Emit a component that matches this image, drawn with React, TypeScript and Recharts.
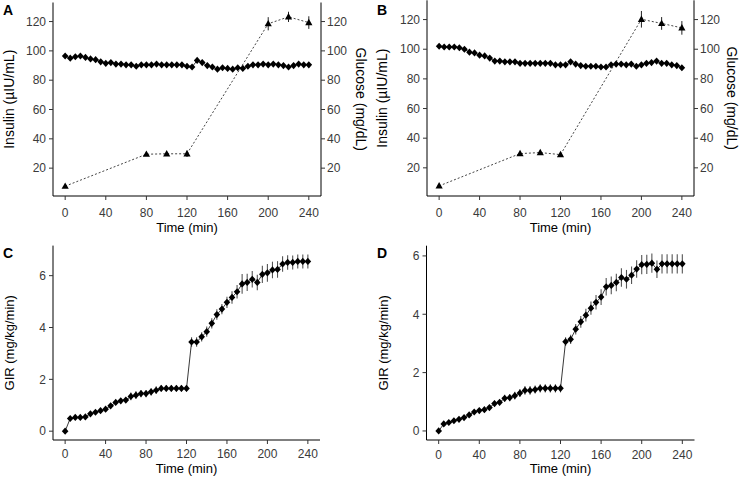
import { ComposedChart, Line, XAxis, YAxis, ErrorBar, Label } from 'recharts';

// sampling times (min)
const minutes = [
    0, 5, 10, 15, 20, 25, 30, 35, 40, 45, 50, 55, 60, 65, 70, 75, 80, 85, 90, 95,
    100, 105, 110, 115, 120, 125, 130, 135, 140, 145, 150, 155, 160, 165, 170, 175,
    180, 185, 190, 195, 200, 205, 210, 215, 220, 225, 230, 235, 240
];
const insulinMinutes = [0, 80, 100, 120, 200, 220, 240];
const timeTicks = [0, 40, 80, 120, 160, 200, 240];
const clampTicks = [20, 40, 60, 80, 100, 120];
const girTicks = [0, 2, 4, 6];

// panel A
const glucoseA = [
    96.5, 95, 96, 96.5, 95.5, 94.5, 94, 92.5, 91.5, 92, 91, 91, 90.5, 90.5, 89.5, 90.5,
    90.5, 90.5, 91, 90.5, 90.5, 90.5, 90.5, 90.5, 89.5, 89, 93.5, 92, 90, 89, 87.5, 88.5,
    88, 87.5, 88.5, 88, 89.5, 90.5, 90.5, 91, 90.5, 91, 90.5, 90, 89, 90, 91, 90.5, 90.5
];
const insulinA = [7.7, 29.5, 29.8, 29.8, 118.5, 123.2, 119.3];
const insulinErrA = [0.8, 1.2, 1, 2.2, 4.5, 3.5, 4.3];

// panel B
const glucoseB = [
    102, 101.5, 101.5, 101.5, 101, 100, 98, 97.5, 96, 95.5, 94, 92, 92, 91.5, 91.5, 91.5,
    90.5, 90.5, 90.5, 90.5, 90.5, 90.5, 90.5, 89.5, 89.5, 89.5, 91.5, 90, 89, 88.5, 88.5,
    88.5, 88, 88, 89.5, 90, 90, 89.5, 90, 88.5, 89.5, 90.5, 91, 92, 90.5, 90.5, 89.5, 89, 87.5
];
const insulinB = [7.8, 29.6, 30.3, 28.9, 120.2, 117.4, 114.4];
const insulinErrB = [0.8, 1, 1.5, 1, 5.6, 4.3, 4.6];

// panel C
const girC = [
    0, 0.49, 0.53, 0.53, 0.55, 0.67, 0.73, 0.79, 0.85, 0.98, 1.11, 1.17, 1.2, 1.34, 1.39,
    1.45, 1.45, 1.52, 1.58, 1.65, 1.65, 1.65, 1.65, 1.65, 1.65, 3.44, 3.44, 3.64, 3.84,
    4.16, 4.5, 4.71, 4.97, 5.16, 5.38, 5.68, 5.74, 5.86, 5.74, 6.05, 6.11, 6.22, 6.24,
    6.45, 6.51, 6.51, 6.55, 6.55, 6.55
];
const girErrC = [
    0.02, 0.05, 0.05, 0.05, 0.05, 0.06, 0.06, 0.06, 0.07, 0.08, 0.09, 0.1, 0.1, 0.15, 0.15,
    0.14, 0.14, 0.14, 0.15, 0.12, 0.12, 0.12, 0.12, 0.12, 0.12, 0.18, 0.18, 0.18, 0.2, 0.2,
    0.2, 0.2, 0.22, 0.24, 0.26, 0.38, 0.33, 0.32, 0.3, 0.33, 0.34, 0.32, 0.32, 0.3, 0.28,
    0.27, 0.27, 0.27, 0.27
];

// panel D
const girD = [
    0, 0.24, 0.29, 0.35, 0.4, 0.46, 0.55, 0.65, 0.7, 0.73, 0.8, 0.94, 0.98, 1.12, 1.14,
    1.21, 1.3, 1.39, 1.39, 1.42, 1.46, 1.46, 1.46, 1.46, 1.46, 3.06, 3.14, 3.49, 3.74,
    3.97, 4.21, 4.41, 4.59, 4.94, 4.99, 5.09, 5.26, 5.2, 5.34, 5.55, 5.7, 5.71, 5.75,
    5.54, 5.73, 5.73, 5.73, 5.73, 5.73
];
const girErrD = [
    0.02, 0.04, 0.04, 0.05, 0.05, 0.05, 0.06, 0.06, 0.07, 0.07, 0.08, 0.1, 0.1, 0.12, 0.12,
    0.13, 0.14, 0.15, 0.15, 0.14, 0.14, 0.14, 0.14, 0.14, 0.14, 0.15, 0.16, 0.18, 0.2,
    0.22, 0.23, 0.25, 0.27, 0.3, 0.3, 0.3, 0.32, 0.32, 0.3, 0.3, 0.33, 0.33, 0.33, 0.3,
    0.33, 0.33, 0.33, 0.33, 0.33
];

const FONT = '"Liberation Sans", Arial, Helvetica, sans-serif';
const TICK = { fill: '#3a3a3a', fontSize: 12 };
const AXIS_LINE = { stroke: '#000', strokeWidth: 1 };
const TICK_LINE = { stroke: '#333', strokeWidth: 1 };

function diamond(props: any) {
    const { cx, cy, index } = props;
    if (cx == null || cy == null) return <g key={index} />;
    return (
        <path
            key={index}
            d={`M${cx},${cy - 3.6}L${cx + 3.3},${cy}L${cx},${cy + 3.6}L${cx - 3.3},${cy}Z`}
            fill="#000"
        />
    );
}

function triangle(props: any) {
    const { cx, cy, index } = props;
    if (cx == null || cy == null) return <g key={index} />;
    return (
        <path
            key={index}
            d={`M${cx},${cy - 3.8}L${cx + 3.6},${cy + 2.6}L${cx - 3.6},${cy + 2.6}Z`}
            fill="#000"
        />
    );
}

interface ClampPanelProps {
    glucose: number[];
    insulin: number[];
    insulinErr: number[];
    top: number;
    leftWidth: number;
    rightWidth: number;
    leftLabelX: number;
    rightLabelOffset: number;
}

function ClampPanel(p: ClampPanelProps) {
    const glucoseData = minutes.map((t, i) => ({ t, glucose: p.glucose[i] }));
    const insulinData = insulinMinutes.map((t, i) => ({ t, insulin: p.insulin[i], err: p.insulinErr[i] }));
    return (
        <ComposedChart width={370} height={240} margin={{ top: p.top, right: 0, bottom: 0, left: 0 }}>
            <XAxis
                dataKey="t"
                type="number"
                domain={[-12, 252]}
                ticks={timeTicks}
                allowDataOverflow
                height={44}
                tickSize={4}
                tickMargin={8.5}
                tick={TICK}
                axisLine={AXIS_LINE}
                tickLine={TICK_LINE}
            >
                <Label value="Time (min)" position="insideBottom" offset={8} fill="#000" fontSize={13} />
            </XAxis>
            <YAxis
                yAxisId="left"
                type="number"
                domain={[1, 133]}
                ticks={clampTicks}
                allowDataOverflow
                width={p.leftWidth}
                tickSize={4}
                tickMargin={3}
                tick={TICK}
                axisLine={AXIS_LINE}
                tickLine={TICK_LINE}
            >
                <Label
                    value="Insulin (µIU/mL)"
                    angle={-90}
                    position="insideLeft"
                    offset={p.leftLabelX}
                    fill="#000"
                    fontSize={14}
                    style={{ textAnchor: 'middle' }}
                />
            </YAxis>
            <YAxis
                yAxisId="right"
                orientation="right"
                type="number"
                domain={[1, 133]}
                ticks={clampTicks}
                allowDataOverflow
                width={p.rightWidth}
                tickSize={4}
                tickMargin={2}
                tick={TICK}
                axisLine={AXIS_LINE}
                tickLine={TICK_LINE}
            >
                <Label
                    value="Glucose (mg/dL)"
                    angle={90}
                    position="insideRight"
                    offset={p.rightLabelOffset}
                    fill="#000"
                    fontSize={14}
                    style={{ textAnchor: 'middle' }}
                />
            </YAxis>
            <Line
                yAxisId="right"
                data={glucoseData}
                dataKey="glucose"
                stroke="#000"
                strokeWidth={0.8}
                dot={diamond}
                activeDot={false}
                isAnimationActive={false}
            />
            <Line
                yAxisId="left"
                data={insulinData}
                dataKey="insulin"
                stroke="#444"
                strokeWidth={1}
                strokeDasharray="2 2"
                dot={triangle}
                activeDot={false}
                isAnimationActive={false}
            >
                <ErrorBar dataKey="err" width={0} stroke="#222" strokeWidth={1} direction="y" />
            </Line>
        </ComposedChart>
    );
}

interface GirPanelProps {
    gir: number[];
    err: number[];
    domain: [number, number];
    top: number;
    right: number;
    leftWidth: number;
    leftLabelX: number;
    tickGap: number;
    bottomLabelOffset: number;
}

function GirPanel(p: GirPanelProps) {
    const data = minutes.map((t, i) => ({ t, gir: p.gir[i], err: p.err[i] }));
    return (
        <ComposedChart width={370} height={238} data={data} margin={{ top: p.top, right: p.right, bottom: 0, left: 0 }}>
            <XAxis
                dataKey="t"
                type="number"
                domain={[-12, 252]}
                ticks={timeTicks}
                allowDataOverflow
                height={38}
                tickSize={4}
                tickMargin={p.tickGap}
                tick={TICK}
                axisLine={AXIS_LINE}
                tickLine={TICK_LINE}
            >
                <Label value="Time (min)" position="insideBottom" offset={p.bottomLabelOffset} fill="#000" fontSize={13} />
            </XAxis>
            <YAxis
                type="number"
                domain={p.domain}
                ticks={girTicks}
                allowDataOverflow
                width={p.leftWidth}
                tickSize={4}
                tickMargin={3}
                tick={TICK}
                axisLine={AXIS_LINE}
                tickLine={TICK_LINE}
            >
                <Label
                    value="GIR (mg/kg/min)"
                    angle={-90}
                    position="insideLeft"
                    offset={p.leftLabelX}
                    fill="#000"
                    fontSize={13}
                    style={{ textAnchor: 'middle' }}
                />
            </YAxis>
            <Line
                dataKey="gir"
                stroke="#222"
                strokeWidth={0.9}
                dot={diamond}
                activeDot={false}
                isAnimationActive={false}
            >
                <ErrorBar dataKey="err" width={0} stroke="#555" strokeWidth={1.1} direction="y" />
            </Line>
        </ComposedChart>
    );
}

const panelLetters = [
    { text: 'A', x: 3, y: 15 },
    { text: 'B', x: 377, y: 15 },
    { text: 'C', x: 3, y: 258 },
    { text: 'D', x: 377, y: 258 }
];

export default function App() {
    return (
        <div style={{ position: 'absolute', left: 0, top: 0, width: 739, height: 478, fontFamily: FONT, background: '#fff' }}>
            <div style={{ position: 'absolute', left: 0, top: 0 }}>
                <ClampPanel
                    glucose={glucoseA}
                    insulin={insulinA}
                    insulinErr={insulinErrA}
                    top={2.5}
                    leftWidth={53}
                    rightWidth={49}
                    leftLabelX={9.5}
                    rightLabelOffset={9.5}
                />
            </div>
            <div style={{ position: 'absolute', left: 369, top: 0 }}>
                <ClampPanel
                    glucose={glucoseB}
                    insulin={insulinB}
                    insulinErr={insulinErrB}
                    top={0.3}
                    leftWidth={58}
                    rightWidth={45}
                    leftLabelX={13.5}
                    rightLabelOffset={7.5}
                />
            </div>
            <div style={{ position: 'absolute', left: 0, top: 240 }}>
                <GirPanel
                    gir={girC}
                    err={girErrC}
                    domain={[-0.34, 7.16]}
                    top={5.6}
                    right={50}
                    leftWidth={53}
                    leftLabelX={9.5}
                    tickGap={5.5}
                    bottomLabelOffset={5.5}
                />
            </div>
            <div style={{ position: 'absolute', left: 369, top: 240 }}>
                <GirPanel
                    gir={girD}
                    err={girErrD}
                    domain={[-0.31, 6.35]}
                    top={5.7}
                    right={44.5}
                    leftWidth={57.5}
                    leftLabelX={14.5}
                    tickGap={6}
                    bottomLabelOffset={4.8}
                />
            </div>
            <svg width={739} height={478} style={{ position: 'absolute', left: 0, top: 0, pointerEvents: 'none' }}>
                {panelLetters.map((l) => (
                    <text key={l.text} x={l.x} y={l.y} fontSize={14} fontWeight="bold" fill="#000">
                        {l.text}
                    </text>
                ))}
            </svg>
        </div>
    );
}
